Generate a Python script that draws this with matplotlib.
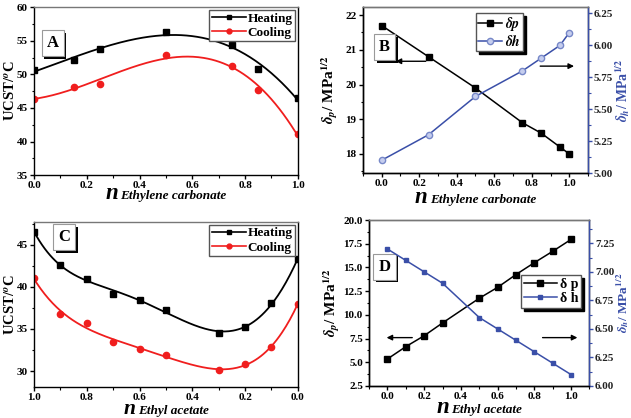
import matplotlib.pyplot as plt
import matplotlib.patheffects as pe
from matplotlib.offsetbox import AnchoredOffsetbox, HPacker, TextArea
from matplotlib.ticker import MultipleLocator, AutoMinorLocator
import numpy as np

plt.rcParams['font.family'] = ['Liberation Serif', 'DejaVu Serif']
plt.rcParams['font.weight'] = 'bold'
plt.rcParams['mathtext.fontset'] = 'stix'

# panel A - UCST vs ethylene carbonate fraction
x_a = [0.0, 0.15, 0.25, 0.5, 0.75, 0.85, 1.0]
heat_a = [50.6, 52.2, 53.7, 56.3, 54.4, 50.8, 46.5]
cool_a = [46.4, 48.1, 48.6, 52.9, 51.3, 47.6, 41.1]

# panel B - solubility parameters vs ethylene carbonate fraction
x_b = [0.0, 0.25, 0.5, 0.75, 0.85, 0.95, 1.0]
dp_b = [21.7, 20.8, 19.9, 18.9, 18.6, 18.2, 18.0]
dh_b = [5.1, 5.3, 5.6, 5.8, 5.9, 6.0, 6.1]

# panel C - UCST vs ethyl acetate fraction
x_c = [1.0, 0.9, 0.8, 0.7, 0.6, 0.5, 0.3, 0.2, 0.1, 0.0]
heat_c = [46.5, 42.6, 40.9, 39.2, 38.4, 37.3, 34.5, 35.2, 38.1, 43.3]
cool_c = [41.0, 36.8, 35.7, 33.4, 32.6, 31.9, 30.1, 30.8, 32.9, 38.0]

# panel D - solubility parameters vs ethyl acetate fraction
x_d = [0.0, 0.1, 0.2, 0.3, 0.5, 0.6, 0.7, 0.8, 0.9, 1.0]
dp_d = [5.35, 6.65, 7.8, 9.15, 11.75, 12.9, 14.25, 15.5, 16.7, 17.95]
dh_d = [7.2, 7.1, 7.0, 6.9, 6.6, 6.5, 6.4, 6.3, 6.2, 6.1]

BLUE = '#3a4fa8'
RED = '#f01e1e'
TICK_FS = 8

fig = plt.figure(figsize=(6.31, 4.18), dpi=100)
axA = fig.add_axes([0.054, 0.581, 0.418, 0.402])
axB = fig.add_axes([0.575, 0.586, 0.357, 0.397])
axC = fig.add_axes([0.054, 0.074, 0.418, 0.395])
axD = fig.add_axes([0.585, 0.0766, 0.349, 0.397])


def style(ax):
    ax.tick_params(direction='out', length=3, width=1, labelsize=TICK_FS, pad=1.5)
    ax.tick_params(which='minor', direction='out', length=1.8, width=0.8)
    ax.xaxis.set_minor_locator(AutoMinorLocator(2))
    ax.yaxis.set_minor_locator(AutoMinorLocator(2))
    for s in ax.spines.values():
        s.set_linewidth(1.0)
    ax.spines['top'].set_color('#777777')
    for lab in ax.get_xticklabels() + ax.get_yticklabels():
        lab.set_fontweight('bold')


def xlabel(ax, name, y, size=16.5):
    big = TextArea('n', textprops=dict(fontsize=size, style='italic', weight='bold'))
    small = TextArea(name, textprops=dict(fontsize=9.5, style='italic', weight='bold'))
    box = HPacker(children=[big, small], align='baseline', pad=0, sep=2)
    anc = AnchoredOffsetbox(loc='center', child=box, frameon=False,
                            bbox_to_anchor=(0.5, y), bbox_transform=ax.transAxes, pad=0)
    ax.add_artist(anc)


def letter(ax, s, x, y):
    t = ax.text(x, y, s, transform=ax.transAxes, ha='center', va='center',
                fontsize=12, fontweight='bold',
                bbox=dict(boxstyle='square,pad=0.3', fc='white', ec='#999999', lw=0.8))
    t.get_bbox_patch().set_path_effects([
        pe.SimplePatchShadow(offset=(2, -2), shadow_rgbFace='k', alpha=1), pe.Normal()])


def smooth(x, y, deg):
    coef = np.polyfit(x, y, deg)
    xs = np.linspace(min(x), max(x), 200)
    return xs, np.polyval(coef, xs)


def ucst_legend(ax):
    leg = ax.legend(loc='upper right', handlelength=2.6, handletextpad=0.1,
                    borderpad=0.2, labelspacing=0.15, fancybox=False, framealpha=1,
                    edgecolor='#555555', borderaxespad=0.2,
                    prop=dict(weight='bold', size=9.5))
    return leg


def arrow(ax, x0, x1, y):
    ax.annotate('', xy=(x1, y), xytext=(x0, y),
                arrowprops=dict(arrowstyle='-|>', color='k', lw=1.0, mutation_scale=8))


# ---- A ----
xs, ys = smooth(x_a, heat_a, 3)
axA.plot(xs, ys, color='k', lw=1.3)
axA.plot(x_a, heat_a, 's', color='k', ms=4.5)
axA.plot([], [], '-s', color='k', ms=3.5, lw=1.2, label='Heating')
xs, ys = smooth(x_a, cool_a, 3)
axA.plot(xs, ys, color=RED, lw=1.3)
axA.plot(x_a, cool_a, 'o', color=RED, ms=4.5)
axA.plot([], [], '-o', color=RED, ms=3.5, lw=1.2, label='Cooling')
axA.set_xlim(0, 1)
axA.set_ylim(35, 60)
axA.xaxis.set_major_locator(MultipleLocator(0.2))
axA.yaxis.set_major_locator(MultipleLocator(5))
style(axA)
axA.set_ylabel('UCST/$^o$C', fontsize=10.5, fontweight='bold')
axA.yaxis.set_label_coords(-0.06, 0.5)
ucst_legend(axA)
xlabel(axA, 'Ethylene carbonate', -0.112)
letter(axA, 'A', 0.07, 0.785)

# ---- B ----
axB2 = axB.twinx()
l1, = axB.plot(x_b, dp_b, '-s', color='k', ms=4.5, lw=1.1)
l2, = axB2.plot(x_b, dh_b, '-o', color=BLUE, ms=4.5, lw=1.1, mfc='#c5cdee', mec='#7788c8')
axB.set_xlim(-0.1, 1.1)
axB.set_ylim(17.45, 22.23)
axB2.set_ylim(5.0, 6.30)
axB.xaxis.set_major_locator(MultipleLocator(0.2))
axB.yaxis.set_major_locator(MultipleLocator(1))
axB2.yaxis.set_major_locator(MultipleLocator(0.25))
axB2.yaxis.set_major_formatter('{x:.2f}')
style(axB)
style(axB2)
axB2.spines['right'].set_color(BLUE)
axB2.tick_params(axis='y', which='both', colors=BLUE, labelcolor='#222222', pad=1)
axB.set_ylabel(r'$\delta_p$/ MPa$^{1/2}$', fontsize=11, fontweight='bold')
axB.yaxis.set_label_coords(-0.102, 0.5)
axB2.set_ylabel(r'$\delta_h$/ MPa$^{1/2}$', fontsize=10, fontweight='bold', color=BLUE,
                rotation=90)
axB2.yaxis.set_label_coords(1.11, 0.5)
axB.legend([l1, l2], [r'$\delta p$', r'$\delta h$'], loc='upper right',
           bbox_to_anchor=(0.71, 0.965), handlelength=1.7,
           handletextpad=0.2, borderpad=0.15, labelspacing=0.05, fancybox=False,
           framealpha=1, edgecolor='#555555', borderaxespad=0,
           prop=dict(weight='bold', size=10),
           shadow={'color': 'k', 'alpha': 1, 'ox': 2, 'oy': -2})
xlabel(axB, 'Ethylene carbonate', -0.15)
letter(axB, 'B', 0.095, 0.76)
arrow(axB, 0.25, 0.06, 20.67)
arrow(axB, 0.83, 1.04, 20.53)

# ---- C ----
xs, ys = smooth(x_c, heat_c, 5)
axC.plot(xs, ys, color='k', lw=1.3)
axC.plot(x_c, heat_c, 's', color='k', ms=4.5)
axC.plot([], [], '-s', color='k', ms=3.5, lw=1.2, label='Heating')
xs, ys = smooth(x_c, cool_c, 5)
axC.plot(xs, ys, color=RED, lw=1.3)
axC.plot(x_c, cool_c, 'o', color=RED, ms=4.5)
axC.plot([], [], '-o', color=RED, ms=3.5, lw=1.2, label='Cooling')
axC.set_xlim(1.0, 0.0)
axC.set_ylim(28.1, 47.7)
axC.xaxis.set_major_locator(MultipleLocator(0.2))
axC.yaxis.set_major_locator(MultipleLocator(5))
style(axC)
axC.set_ylabel('UCST/$^o$C', fontsize=10.5, fontweight='bold')
axC.yaxis.set_label_coords(-0.06, 0.5)
ucst_legend(axC)
xlabel(axC, 'Ethyl acetate', -0.13, size=15.5)
letter(axC, 'C', 0.115, 0.91)

# ---- D ----
axD2 = axD.twinx()
m1, = axD.plot(x_d, dp_d, '-s', color='k', ms=4.5, lw=1.1)
m2, = axD2.plot(x_d, dh_d, '-s', color=BLUE, ms=2.3, lw=1.1)
axD.set_xlim(-0.1, 1.1)
axD.set_ylim(2.5, 20.0)
axD2.set_ylim(6.0, 7.454)
axD.xaxis.set_major_locator(MultipleLocator(0.2))
axD.yaxis.set_major_locator(MultipleLocator(2.5))
axD.yaxis.set_major_formatter('{x:.1f}')
axD2.yaxis.set_major_locator(MultipleLocator(0.25))
axD2.yaxis.set_major_formatter('{x:.2f}')
style(axD)
style(axD2)
axD2.spines['right'].set_color(BLUE)
axD2.tick_params(axis='y', which='both', colors=BLUE, labelcolor='#222222', pad=1)
axD.set_ylabel(r'$\delta_p$/ MPa$^{1/2}$', fontsize=11, fontweight='bold')
axD.yaxis.set_label_coords(-0.123, 0.5)
axD2.set_ylabel(r'$\delta_h$/ MPa$^{1/2}$', fontsize=9.5, fontweight='bold', color=BLUE,
                rotation=90)
axD2.yaxis.set_label_coords(1.112, 0.5)
axD.legend([m1, m2], ['\u03b4 p', '\u03b4 h'], loc='upper right',
           bbox_to_anchor=(0.963, 0.67), handlelength=2.4,
           handletextpad=0.2, borderpad=0.2, labelspacing=0.1, fancybox=False,
           framealpha=1, edgecolor='#555555', borderaxespad=0,
           prop=dict(weight='bold', size=10),
           shadow={'color': 'k', 'alpha': 1, 'ox': 2, 'oy': -2})
xlabel(axD, 'Ethyl acetate', -0.128)
letter(axD, 'D', 0.07, 0.72)
arrow(axD, 0.15, -0.02, 7.6)
arrow(axD, 0.83, 1.05, 7.6)

fig.savefig('out.png', dpi=100)
